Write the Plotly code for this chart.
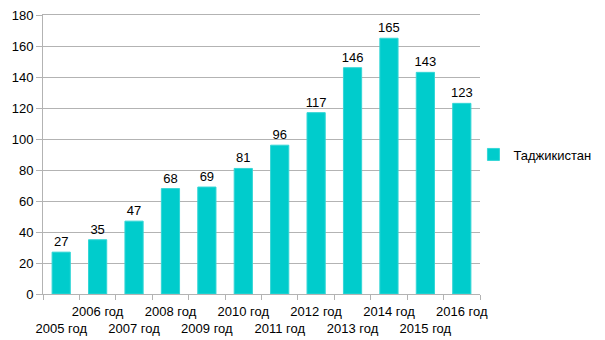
import plotly.graph_objects as go

years = ["2005 год", "2006 год", "2007 год", "2008 год", "2009 год", "2010 год",
         "2011 год", "2012 год", "2013 год", "2014 год", "2015 год", "2016 год"]
values = [27, 35, 47, 68, 69, 81, 96, 117, 146, 165, 143, 123]
series_name = "Таджикистан"
y_ticks = [0, 20, 40, 60, 80, 100, 120, 140, 160, 180]

tick_text = [("<br>" + y) if i % 2 == 0 else y for i, y in enumerate(years)]

fig = go.Figure()
fig.add_trace(go.Bar(
    x=years, y=values, name=series_name,
    marker=dict(color="#00CCCC", line=dict(color="#33D6D6", width=1)),
    text=[str(v) for v in values], textposition="outside",
    textfont=dict(size=13, color="#000000"), cliponaxis=False,
    constraintext="none",
))

fig.update_layout(
    width=605, height=340,
    margin=dict(l=43, r=125, t=15, b=46, autoexpand=False),
    paper_bgcolor="white", plot_bgcolor="white",
    font=dict(family="Liberation Sans, Arial, sans-serif", size=13, color="#000000"),
    bargap=0.5,
    showlegend=True,
    legend=dict(x=0.985, y=0.5, xanchor="left", yanchor="middle",
                font=dict(size=13), itemwidth=30),
)
fig.update_xaxes(
    type="category", tickvals=years, ticktext=tick_text,
    tickson="boundaries", ticks="outside", ticklen=5, tickcolor="#b3b3b3",
    showline=True, linecolor="#b3b3b3", linewidth=1, mirror=True,
    showgrid=False, tickangle=0, tickfont=dict(size=13),
    ticklabelstandoff=5,
)
fig.update_yaxes(
    range=[0, 180], tickvals=y_ticks, ticks="outside", ticklen=6, tickcolor="#b3b3b3",
    showline=True, linecolor="#b3b3b3", linewidth=1,
    showgrid=True, gridcolor="#b3b3b3", gridwidth=1, zeroline=False,
    tickfont=dict(size=13),
)

fig.write_html("out.html")
